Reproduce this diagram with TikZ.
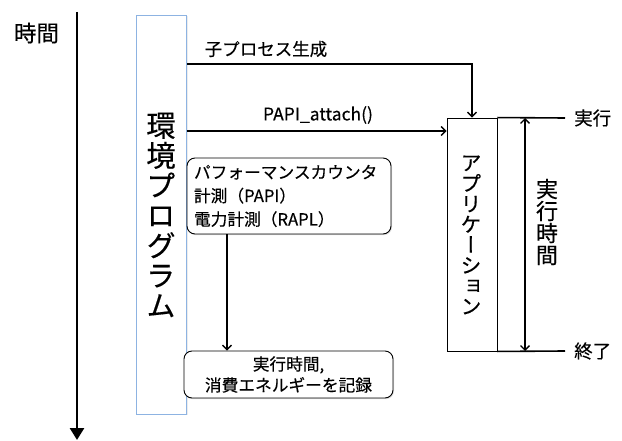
\documentclass[tikz,border=0pt]{standalone}
\usepackage{fontspec}
\setmainfont{Noto Sans CJK JP}[FakeBold=0.35]
\newfontfamily\jpv{Noto Sans CJK JP}[RawFeature=+vert,FakeBold=0.35]
\usetikzlibrary{arrows.meta,shadows}
\definecolor{envblue}{HTML}{8DB3E2}
\begin{document}
\begin{tikzpicture}[x=1pt,y=-1pt,
  barb/.tip={Straight Barb[length=4.5pt,width=9pt,line width=1.4pt]},
  arr/.style={-barb, line width=1.6pt},
  rbox/.style={draw, rounded corners=8pt, fill=white, line width=0.9pt,
    drop shadow={opacity=0.25, shadow xshift=1pt, shadow yshift=-1.2pt}},
  lbl/.style={inner sep=0pt, font=\fontsize{17.5}{19}\selectfont},
]
\useasboundingbox (0,0) rectangle (622,441);
% time axis
\coordinate (t0) at (77,12);
\coordinate (t1) at (77,440);
\draw[line width=2.6pt, -{Triangle[length=12pt,width=14pt]}] (t0) -- (t1);
\node[lbl, font=\fontsize{22.5}{24}\selectfont] (tlabel) at (36.5,33) {時間};

% environment program box
\node[draw=envblue, line width=0.9pt, fill=white, minimum width=50pt, minimum height=399pt, inner sep=0pt,
  drop shadow={opacity=0.15, shadow xshift=1pt, shadow yshift=-1pt}] (env) at (161.5,214.5) {};
\node[align=center, inner sep=0pt, font=\jpv\fontsize{29.5}{30}\selectfont] (envt) at (161,215)
  {環\\境\\プ\\ロ\\グ\\ラ\\ム};

% application box
\node[draw, line width=0.9pt, fill=white, minimum width=50pt, minimum height=233pt, inner sep=0pt,
  drop shadow={opacity=0.2, shadow xshift=1pt, shadow yshift=-1pt}] (app) at (472,234.5) {};
\node[align=center, inner sep=0pt, font=\jpv\fontsize{21}{20.5}\selectfont] (appt) at (471,235)
  {ア\\プ\\リ\\ケ\\ー\\シ\\ョ\\ン};

% measurement boxes
\node[rbox, text width=190pt, inner xsep=7pt, minimum height=76pt, align=left,
  font=\fontsize{16.7}{23.5}\selectfont] (box1) at (289,196)
  {パフォーマンスカウンタ\\計測（PAPI）\\電力計測（RAPL）};
\node[rbox, minimum width=209pt, minimum height=47pt, align=center, inner sep=1pt,
  font=\fontsize{16.7}{21}\selectfont] (box2) at (288.5,374.5)
  {実行時間,\\消費エネルギーを記録};

% arrows from environment
\coordinate (s1) at (env.east |- 0,64);
\coordinate (s2) at (env.east |- 0,131);
\draw[arr] (s1) -| (app.north);
\draw[arr] (s2) -- (app.west |- s2);
\node[lbl] (l1) at (266,49) {子プロセス生成};
\node[lbl] (l2) at (318,115) {PAPI\_attach()};

% box1 -> box2
\coordinate (b1) at (box1.south -| 227,0);
\draw[arr] (b1) -- (box2.north -| b1);

% start/end lines
\node[lbl, anchor=west, inner xsep=9pt, font=\fontsize{18.5}{20}\selectfont] (start) at (565,118) {実行};
\node[lbl, anchor=west, inner xsep=9pt, font=\fontsize{18.5}{20}\selectfont] (end) at (565,351) {終了};
\draw[line width=1.6pt] (app.north east) -- (start.west);
\draw[line width=1.6pt] (app.south east) -- (end.west);
\coordinate (d1) at (525,118);
\coordinate (d2) at (525,351);
\draw[line width=1.8pt, barb-barb] (d1) -- (d2);
\node[align=center, inner sep=0pt, font=\fontsize{22}{22}\selectfont] (dur) at (547,222)
  {実\\行\\時\\間};
\end{tikzpicture}
\end{document}
